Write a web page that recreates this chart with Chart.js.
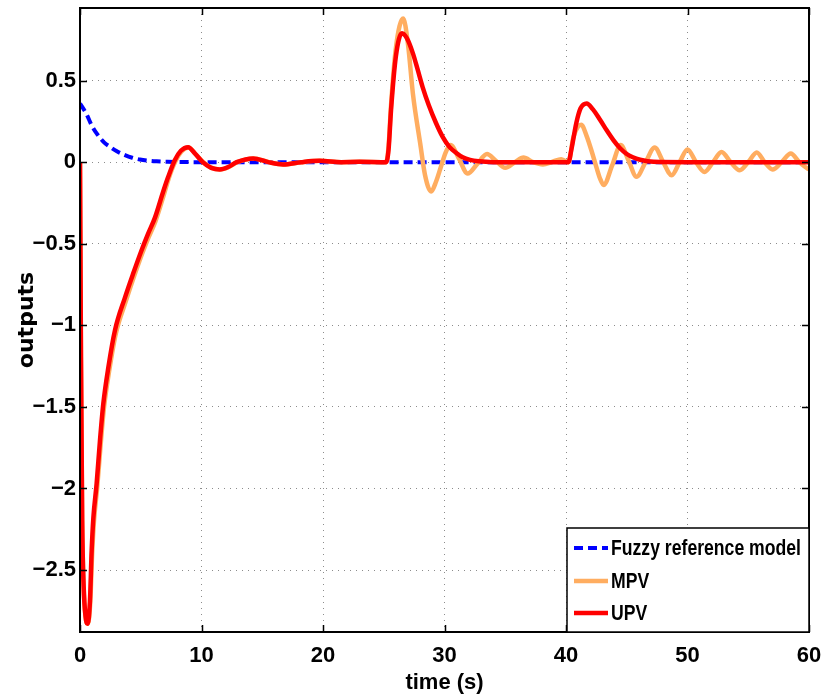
<!DOCTYPE html>
<html>
<head>
<meta charset="utf-8">
<script src="https://cdn.jsdelivr.net/npm/chart.js@4"></script>
<style>
    body { margin: 0; background: #fff; }
    #wrap { width: 830px; height: 696px; }
</style>
</head>
<body>
<div id="wrap"><canvas id="outChart" width="830" height="696"></canvas></div>
<script>
// time ticks / output ticks
const xTicks = [0, 10, 20, 30, 40, 50, 60];
const yTicks = [-2.5, -2, -1.5, -1, -0.5, 0, 0.5];

// Fuzzy reference model
const refT = [0, 0.5, 1.0, 1.37, 2.0, 2.47, 3.0, 3.7, 4.3, 4.93, 5.6, 6.3, 7.2, 8.2, 10, 20, 30, 40, 50, 60];
const refV = [0.36, 0.30, 0.22, 0.176, 0.12, 0.094, 0.068, 0.043, 0.027, 0.016, 0.009, 0.005, 0.002, 0.001, 0, 0, 0, 0, 0, 0];

// UPV
const upvT = [0, 0.08, 0.18, 0.3, 0.45, 0.63, 0.82, 0.96, 1.1, 1.37, 1.64, 1.92, 2.33, 2.88, 3.7, 4.39, 5.07, 5.6, 6.17, 6.85,
    7.26, 7.8, 8.3, 8.9, 9.46, 10.1, 10.8, 11.5, 12.2, 12.9, 14.25, 15.5, 16.7, 18.2, 19.7, 21.5, 23.0, 25.0, 25.2,
    25.4, 25.6, 26.0, 26.5, 26.9, 27.4, 27.8, 28.2, 28.7, 29.3, 29.85, 30.4, 31.0, 31.5, 32.1, 32.8, 34.0, 40.2,
    40.45, 40.85, 41.2, 41.7, 42.2, 42.8, 43.35, 43.9, 44.45, 45.0, 45.5, 46.1, 47.2, 50, 60];
const upvV = [0, -1.2, -2.2, -2.6, -2.78, -2.83, -2.69, -2.38, -2.18, -1.97, -1.71, -1.48, -1.26, -1.03, -0.83, -0.68, -0.54, -0.44, -0.34, -0.18,
    -0.09, 0.012, 0.07, 0.092, 0.053, 0, -0.035, -0.045, -0.03, 0, 0.023, 0, -0.014, 0, 0.008, 0, 0.002, 0, 0,
    0.08, 0.32, 0.65, 0.79, 0.76, 0.667, 0.565, 0.46, 0.35, 0.24, 0.155, 0.094, 0.055, 0.03, 0.014, 0.005, 0, 0,
    0.08, 0.24, 0.33, 0.36, 0.325, 0.26, 0.195, 0.135, 0.085, 0.05, 0.03, 0.015, 0.002, 0, 0];

// MPV
const mpvT = [0, 0.08, 0.18, 0.3, 0.45, 0.65, 0.85, 1.0, 1.15, 1.42, 1.7, 1.98, 2.4, 2.95, 3.78, 4.45, 5.12, 5.65, 6.22, 6.9,
    7.3, 7.85, 8.35, 8.95, 9.5, 10.15, 10.85, 11.55, 12.25, 12.95, 14.3, 15.55, 16.75, 18.25, 19.75, 21.5, 23.0, 25.0, 25.2,
    25.4, 25.6, 26.0, 26.6, 27.0, 27.4, 28.0, 28.4, 28.9, 29.3, 29.7, 30.1, 30.5, 31.2, 31.9, 32.7, 33.5, 34.2,
    35.0, 35.8, 36.5, 37.3, 38.1, 38.9, 39.6, 40.0, 40.2,
    40.6, 41.0, 41.25, 41.7, 42.1, 42.5, 42.8, 43.1, 43.8, 44.5, 45.15, 45.8, 46.55, 47.3, 48.0, 48.7, 49.35,
    50.0, 50.7, 51.4, 52.1, 52.8, 53.55, 54.3, 55.0, 55.7, 56.35, 57.0, 57.75, 58.5, 59.2, 59.9, 60];
const mpvV = [0, -1.2, -2.2, -2.6, -2.78, -2.83, -2.69, -2.4, -2.2, -1.99, -1.73, -1.5, -1.28, -1.05, -0.85, -0.7, -0.56, -0.46, -0.36, -0.2,
    -0.1, 0.005, 0.065, 0.09, 0.05, 0, -0.035, -0.045, -0.03, 0, 0.023, 0, -0.014, 0, 0.008, 0, 0.002, 0, 0,
    0.1, 0.35, 0.7, 0.88, 0.72, 0.42, 0.115, -0.08, -0.18, -0.12, -0.03, 0.06, 0.105, 0.02, -0.07, -0.01, 0.05, 0.01,
    -0.035, 0, 0.028, 0, -0.014, 0.003, 0.018, 0.005, 0,
    0.15, 0.22, 0.23, 0.16, 0.07, -0.03, -0.1, -0.14, -0.02, 0.105, 0.01, -0.09, 0, 0.09, 0, -0.08, 0,
    0.078, 0, -0.06, 0, 0.063, 0, -0.05, 0, 0.06, 0, -0.045, 0, 0.053, 0, -0.04, -0.042];

const fontFamily = "'Liberation Sans Narrow', 'Liberation Sans', Arial, sans-serif";
const tickFont = { family: fontFamily, size: 22, weight: 'bold' };

function pts(ts, vs) {
    return ts.map((t, i) => ({ x: t, y: vs[i] }));
}

function fmtTick(v) {
    const s = String(Math.abs(v));
    return v < 0 ? '\u2212' + s : s;
}

// frame, inward tick marks and the legend box in the lower right corner
const matlabAxes = {
    id: 'matlabAxes',
    afterDraw(chart) {
        const ctx = chart.ctx;
        const a = chart.chartArea;
        const xs = chart.scales.x;
        const ys = chart.scales.y;
        ctx.save();
        ctx.strokeStyle = '#000';
        ctx.lineWidth = 1.5;
        ctx.beginPath();
        xTicks.forEach(t => {
            const px = Math.round(xs.getPixelForValue(t)) + 0.5;
            ctx.moveTo(px, a.bottom); ctx.lineTo(px, a.bottom - 7);
            ctx.moveTo(px, a.top); ctx.lineTo(px, a.top + 7);
        });
        yTicks.forEach(v => {
            const py = Math.round(ys.getPixelForValue(v)) + 0.5;
            ctx.moveTo(a.left, py); ctx.lineTo(a.left + 7, py);
            ctx.moveTo(a.right, py); ctx.lineTo(a.right - 7, py);
        });
        ctx.stroke();
        ctx.lineWidth = 2;
        ctx.strokeRect(a.left, a.top, a.right - a.left, a.bottom - a.top);

        // legend
        const bx = 567, by = 528, bw = a.right - 567, bh = a.bottom - 528;
        ctx.fillStyle = '#fff';
        ctx.fillRect(bx, by, bw, bh);
        ctx.lineWidth = 1.5;
        ctx.strokeRect(bx, by, bw, bh);
        const rows = [548, 581, 613];
        ctx.font = `bold 22px ${fontFamily}`;
        const widest = Math.max(...chart.data.datasets.map(ds => ctx.measureText(ds.label).width));
        const squeeze = Math.min(1, 190 / widest);
        chart.data.datasets.forEach((ds, i) => {
            const y = rows[i];
            ctx.strokeStyle = ds.borderColor;
            ctx.lineWidth = ds.borderWidth;
            ctx.setLineDash(ds.borderDash || []);
            ctx.beginPath();
            ctx.moveTo(574, y); ctx.lineTo(608, y);
            ctx.stroke();
            ctx.setLineDash([]);
            ctx.save();
            ctx.translate(611, y + 1);
            ctx.scale(squeeze, 1);
            ctx.fillStyle = '#000';
            ctx.textBaseline = 'middle';
            ctx.fillText(ds.label, 0, 0);
            ctx.restore();
        });
        ctx.restore();
    }
};

new Chart(document.getElementById('outChart'), {
    type: 'line',
    data: {
        datasets: [
            {
                label: 'Fuzzy reference model',
                data: pts(refT, refV),
                borderColor: '#0000ff',
                borderWidth: 4,
                borderDash: [9, 5],
                order: 3
            },
            {
                label: 'MPV',
                data: pts(mpvT, mpvV),
                borderColor: '#ffad60',
                borderWidth: 4.5,
                order: 2
            },
            {
                label: 'UPV',
                data: pts(upvT, upvV),
                borderColor: '#ff0000',
                borderWidth: 4.5,
                order: 1
            }
        ]
    },
    options: {
        responsive: false,
        animation: false,
        layout: { padding: { top: 8, right: 21, left: 0, bottom: 0 } },
        elements: {
            point: { radius: 0 },
            line: { cubicInterpolationMode: 'monotone', fill: false }
        },
        plugins: {
            legend: { display: false },
            tooltip: { enabled: false }
        },
        scales: {
            x: {
                type: 'linear',
                min: 0,
                max: 60,
                afterFit: (s) => { s.height = 64; s.paddingLeft = 0; s.paddingRight = 0; },
                afterBuildTicks: (s) => { s.ticks = xTicks.map(v => ({ value: v })); },
                ticks: { font: tickFont, color: '#000', padding: 11, maxRotation: 0, callback: fmtTick },
                grid: { color: '#8c8c8c', lineWidth: 1, drawTicks: false },
                border: { display: false, dash: [1, 5] },
                title: { display: true, text: 'time (s)', color: '#000', font: tickFont, padding: { top: 0, bottom: 0 } }
            },
            y: {
                type: 'linear',
                min: -2.88,
                max: 0.945,
                afterFit: (s) => { s.width = 80; s.paddingTop = 0; s.paddingBottom = 0; },
                afterBuildTicks: (s) => { s.ticks = yTicks.map(v => ({ value: v })); },
                ticks: { font: tickFont, color: '#000', padding: 4, callback: fmtTick },
                grid: { color: '#8c8c8c', lineWidth: 1, drawTicks: false },
                border: { display: false, dash: [1, 5] },
                title: {
                    display: true, text: 'outputs', color: '#000',
                    font: { family: "'DejaVu Sans', sans-serif", size: 22, weight: 'bold' },
                    padding: { top: 14, bottom: 0 }
                }
            }
        }
    },
    plugins: [matlabAxes]
});
</script>
</body>
</html>
